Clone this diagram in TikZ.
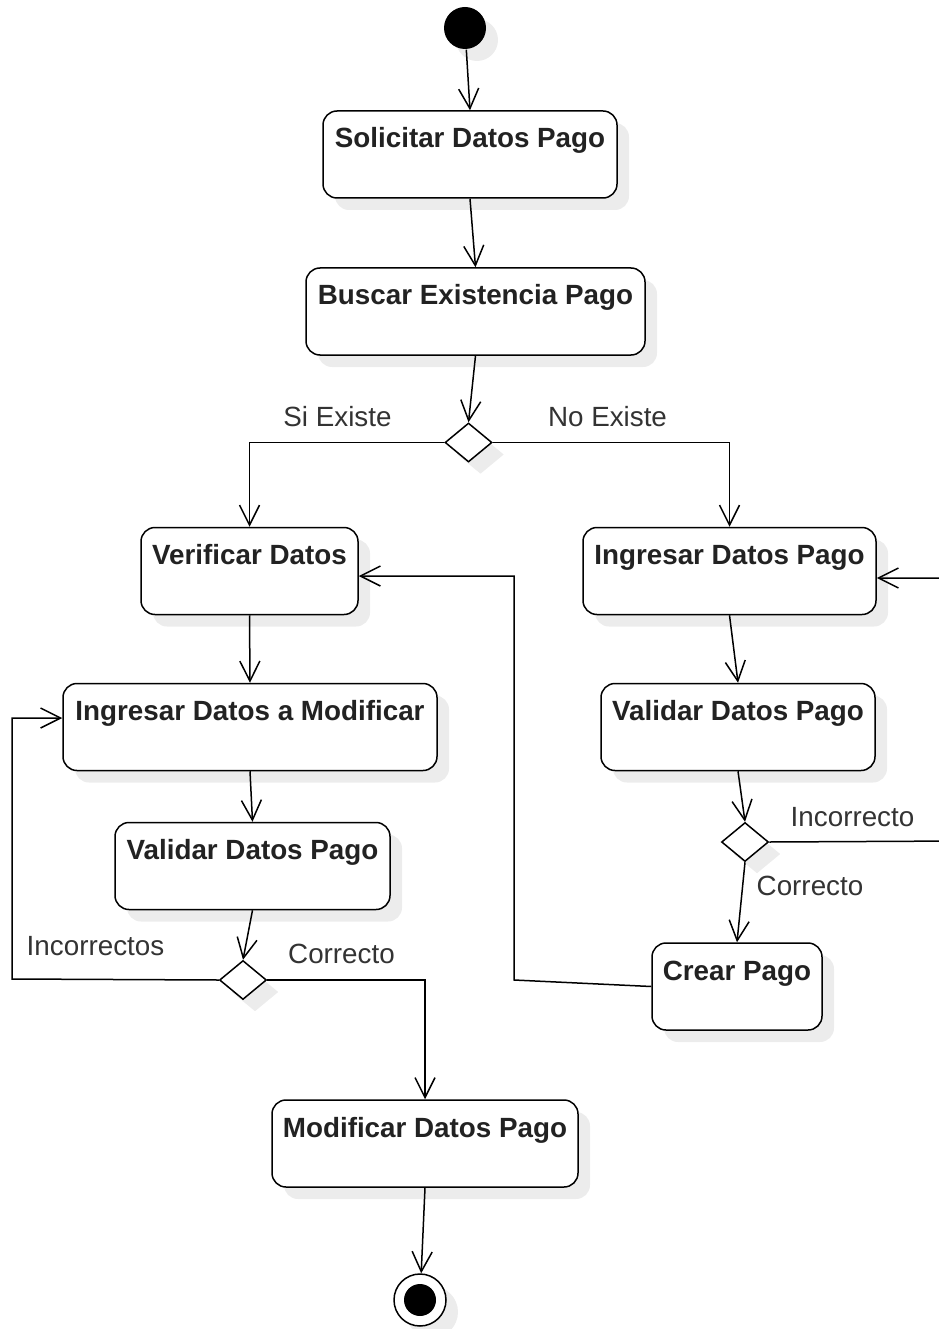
\documentclass[tikz,border=0pt]{standalone}
\usepackage{fontspec}
\setmainfont{Liberation Sans}
\usetikzlibrary{arrows.meta,shapes.geometric,shadows,calc}
\definecolor{txt}{HTML}{222222}
\definecolor{lbl}{HTML}{333333}
\definecolor{shd}{HTML}{ECECEC}
\begin{document}
\begin{tikzpicture}[x=1pt,y=-1pt,
  line width=1.5pt,
  myshadow/.style={drop shadow={shadow xshift=12pt,shadow yshift=-12pt,fill=shd,opacity=1}},
  act/.style={draw, rounded corners=14pt, fill=white, text=txt,
    font=\fontsize{27.8}{32}\selectfont\bfseries,
    text height=37pt, text depth=50pt, inner ysep=0pt, inner xsep=0pt, myshadow},
  dec/.style={diamond, draw, fill=white, minimum width=47pt, minimum height=39pt, inner sep=0pt, myshadow},
  lab/.style={text=lbl, anchor=base, inner sep=0pt, font=\fontsize{27.8}{32}\selectfont},
  flow/.style={-{Straight Barb[length=20pt,width=20pt]}, line width=1.5pt}
]
\useasboundingbox (0,0) rectangle (938,1329);

% activities
\node[act, minimum width=294pt] (sol) at (470,154.5) {Solicitar Datos Pago};
\node[act, minimum width=339pt] (bus) at (475.5,311.5) {Buscar Existencia Pago};
\node[act, minimum width=217pt] (ver) at (249.5,571) {Verificar Datos};
\node[act, minimum width=293pt] (ing) at (729.5,571) {Ingresar Datos Pago};
\node[act, minimum width=374pt] (imod) at (250,727) {Ingresar Datos a Modificar};
\node[act, minimum width=274pt] (val2) at (738,727) {Validar Datos Pago};
\node[act, minimum width=275pt] (val1) at (252.5,866) {Validar Datos Pago};
\node[act, minimum width=170pt] (crear) at (737,986.5) {Crear Pago};
\node[act, minimum width=306pt] (mod) at (425,1143.5) {Modificar Datos Pago};

% decisions
\node[dec] (d1) at (468.5,442.5) {};
\node[dec] (d2) at (243,980) {};
\node[dec] (d3) at (745,842) {};

% start / end
\node[circle, fill=black, minimum size=42pt, inner sep=0pt, myshadow] (start) at (465,28) {};
\node[circle, draw, fill=white, minimum size=52pt, inner sep=0pt, myshadow] (fin) at (420,1300) {};
\node[circle, fill=black, minimum size=32pt, inner sep=0pt] (finc) at (fin) {};

% helper coordinates
\coordinate (rb) at (960,841);
\coordinate (rt) at (960,578);
\coordinate (cb) at (514,980);
\coordinate (vt) at (514,576);
\coordinate (lb) at (12,979);
\coordinate (lt) at (12,718);

% connectors
\draw[flow] (start) -- (sol.north);
\draw[flow] (sol.south) -- (bus.north);
\draw[flow] (bus.south) -- (d1.north);
\draw[flow] (d1.west) -| (ver.north);
\draw[flow] (d1.east) -| (ing.north);
\draw[flow] (ing.south) -- (val2.north);
\draw[flow] (val2.south) -- (d3.north);
\draw[flow] (d3.south) -- (crear.north);
\draw[flow] (d3.east) -- (rb) -- (rt) -- (rt -| ing.east);
\draw[flow] (crear.west) -- (cb) -- (vt) -- (vt -| ver.east);
\draw[flow] (ver.south) -- (imod.north);
\draw[flow] (imod.south) -- (val1.north);
\draw[flow] (val1.south) -- (d2.north);
\draw[flow] (d2.west) -- (lb) -- (lt) -- (lt -| imod.west);
\draw[flow] (d2.east) -| (mod.north);
\draw[flow] (mod.south) -- (fin);

% labels
\node[lab] (lsi) at (337.5,426) {Si Existe};
\node[lab] (lno) at (607.5,426) {No Existe};
\node[lab] (linc1) at (95.5,955) {Incorrectos};
\node[lab] (lcor1) at (341.5,963) {Correcto};
\node[lab] (linc2) at (852.5,826) {Incorrecto};
\node[lab] (lcor2) at (810,895) {Correcto};
\end{tikzpicture}
\end{document}
